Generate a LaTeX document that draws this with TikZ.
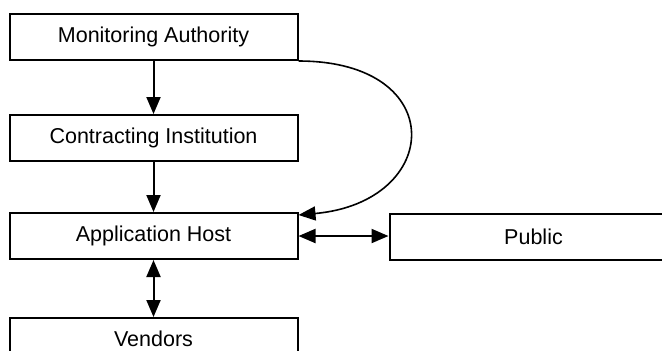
\documentclass[tikz,border=0pt]{standalone}
\usepackage{fontspec}
\setmainfont{Liberation Sans}
\usetikzlibrary{positioning,arrows.meta,calc}

\begin{document}
\begin{tikzpicture}[
  font=\fontsize{10.75}{12}\selectfont,
  party/.style={draw,line width=1pt,minimum width=144pt,minimum height=23pt,inner sep=0pt},
  arr/.style={-{Triangle[length=8.5pt,width=7pt]},line width=1pt},
  both/.style={{Triangle[length=8.5pt,width=7pt]}-{Triangle[length=8.5pt,width=7pt]},line width=1pt},
]
  \useasboundingbox (0,0) rectangle (331pt,-175pt);
  \node[party] (mon) at (76.75pt,-18.5pt) {Monitoring Authority};
  \node[party,below=26.5pt of mon] (inst) {Contracting Institution};
  \node[party,below=25pt of inst] (host) {Application Host};
  \node[party,minimum height=21pt,below=28.5pt of host] (vend) {Vendors};
  \node[party,right=45pt of host,yshift=-0.5pt] (pub) {Public};
  \draw[arr] (mon) -- (inst);
  \draw[arr] (inst) -- (host);
  \draw[both] (host) -- (vend);
  \draw[both] (host.east) -- (host.east -| pub.west);
  \draw[-{Triangle[length=8.5pt,width=7pt]},line width=0.8pt] (mon.south east)
    .. controls ($(mon.south east)+(76pt,0)$) and ($(host.north east)+(72pt,5pt)$) ..
    ($(host.north east)+(0,-1.5pt)$);
\end{tikzpicture}
\end{document}
